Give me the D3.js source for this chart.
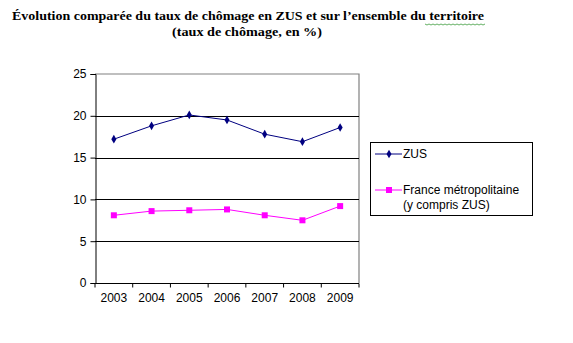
<!DOCTYPE html>
<html><head><meta charset="utf-8">
<script src="https://cdn.jsdelivr.net/npm/d3@7"></script>
<style>body{margin:0;background:#fff}svg{display:block}</style>
</head><body>
<svg id="c" width="573" height="343"></svg>
<script>
const years = ["2003","2004","2005","2006","2007","2008","2009"];
const zus = [17.2, 18.8, 20.1, 19.5, 17.8, 16.9, 18.6];
const france = [8.1, 8.6, 8.7, 8.8, 8.1, 7.5, 9.2];
const yTicks = [0, 5, 10, 15, 20, 25];
const titleLines = ["Évolution comparée du taux de chômage en ZUS et sur l’ensemble du territoire", "(taux de chômage, en %)"];
const seriesNames = ["ZUS", ["France métropolitaine", "(y compris ZUS)"]];

const svg = d3.select("#c");
const L = 95, R = 359, T = 74, B = 283;
const x = d3.scaleBand().domain(years).range([L, R]);
const y = d3.scaleLinear().domain([0, 25]).range([B, T]);

// title
const tt = svg.append("g").attr("font-family", "Liberation Serif, Times New Roman, serif")
  .attr("font-weight", "bold").attr("font-size", 13.5).attr("fill", "#000");
tt.append("text").attr("x", 248).attr("y", 20).attr("text-anchor", "middle")
  .attr("textLength", 472).attr("lengthAdjust", "spacingAndGlyphs").text(titleLines[0]);
tt.append("text").attr("x", 247).attr("y", 36).attr("text-anchor", "middle")
  .attr("textLength", 150).attr("lengthAdjust", "spacingAndGlyphs").text(titleLines[1]);
// spellcheck wavy underline
let wp = "M425,24";
for (let i = 0; i < 30; i++) wp += `l2,${i % 2 ? -1 : 1}`;
svg.append("path").attr("d", wp).attr("fill", "none").attr("stroke", "#3a9a3a").attr("stroke-width", 0.8);

// plot border (grey top/right)
svg.append("path").attr("d", `M${L},${T}H${R}V${B}`).attr("fill", "none").attr("stroke", "#808080").attr("stroke-width", 1.2);

// grid lines
svg.append("g").selectAll("line").data(yTicks.filter(d => d > 0 && d < 25)).join("line")
  .attr("x1", L).attr("x2", R).attr("y1", d => Math.round(y(d)) + 0.5).attr("y2", d => Math.round(y(d)) + 0.5)
  .attr("stroke", "#000").attr("stroke-width", 1);

// y axis
const ya = svg.append("g").attr("transform", `translate(${L + 0.5},0)`)
  .call(d3.axisLeft(y).tickValues(yTicks).tickSize(5).tickPadding(4).tickFormat(d3.format("d")));
ya.select(".domain").attr("stroke", "#000");
ya.selectAll("text").attr("font-family", "Liberation Sans, Arial, sans-serif").attr("font-size", 12).attr("fill", "#000");

// x axis
const xa = svg.append("g").attr("transform", `translate(0,${B + 0.5})`)
  .call(d3.axisBottom(x).tickSize(0).tickPadding(10));
xa.select(".domain").attr("d", `M${L},0H${R}`).attr("stroke", "#000");
xa.selectAll("text").attr("font-family", "Liberation Sans, Arial, sans-serif").attr("font-size", 12).attr("fill", "#000");
xa.selectAll(".edge").data(years.concat(["end"])).join("line").attr("class", "edge")
  .attr("x1", (d, i) => L + i * x.step()).attr("x2", (d, i) => L + i * x.step())
  .attr("y1", 0).attr("y2", 4).attr("stroke", "#000");

const cx = d => x(d) + x.bandwidth() / 2;
const line = d3.line().x((d, i) => cx(years[i])).y(d => y(d));

// ZUS
svg.append("path").datum(zus).attr("d", line).attr("fill", "none").attr("stroke", "#000080").attr("stroke-width", 1);
svg.append("g").selectAll("path").data(zus).join("path")
  .attr("d", d3.symbol(d3.symbolDiamond, 22))
  .attr("transform", (d, i) => `translate(${cx(years[i])},${y(d)})`).attr("fill", "#000080");

// France
svg.append("path").datum(france).attr("d", line).attr("fill", "none").attr("stroke", "#ff00ff").attr("stroke-width", 1);
svg.append("g").selectAll("rect").data(france).join("rect")
  .attr("x", (d, i) => cx(years[i]) - 3).attr("y", d => y(d) - 3).attr("width", 6).attr("height", 6).attr("fill", "#ff00ff");

// legend
const lg = svg.append("g");
lg.append("rect").attr("x", 370.5).attr("y", 142.5).attr("width", 162).attr("height", 73)
  .attr("fill", "#fff").attr("stroke", "#000").attr("stroke-width", 1);
const lf = "Liberation Sans, Arial, sans-serif";
lg.append("line").attr("x1", 375).attr("x2", 402).attr("y1", 154).attr("y2", 154).attr("stroke", "#000080");
lg.append("path").attr("d", d3.symbol(d3.symbolDiamond, 22)).attr("transform", "translate(389,154)").attr("fill", "#000080");
lg.append("text").attr("x", 403).attr("y", 158).attr("font-family", lf).attr("font-size", 12).text(seriesNames[0]);
lg.append("line").attr("x1", 375).attr("x2", 402).attr("y1", 190).attr("y2", 190).attr("stroke", "#ff00ff");
lg.append("rect").attr("x", 386).attr("y", 187).attr("width", 6).attr("height", 6).attr("fill", "#ff00ff");
lg.append("text").attr("x", 403).attr("y", 194).attr("font-family", lf).attr("font-size", 12).text(seriesNames[1][0]);
lg.append("text").attr("x", 403).attr("y", 209).attr("font-family", lf).attr("font-size", 12).text(seriesNames[1][1]);
</script>
</body></html>
